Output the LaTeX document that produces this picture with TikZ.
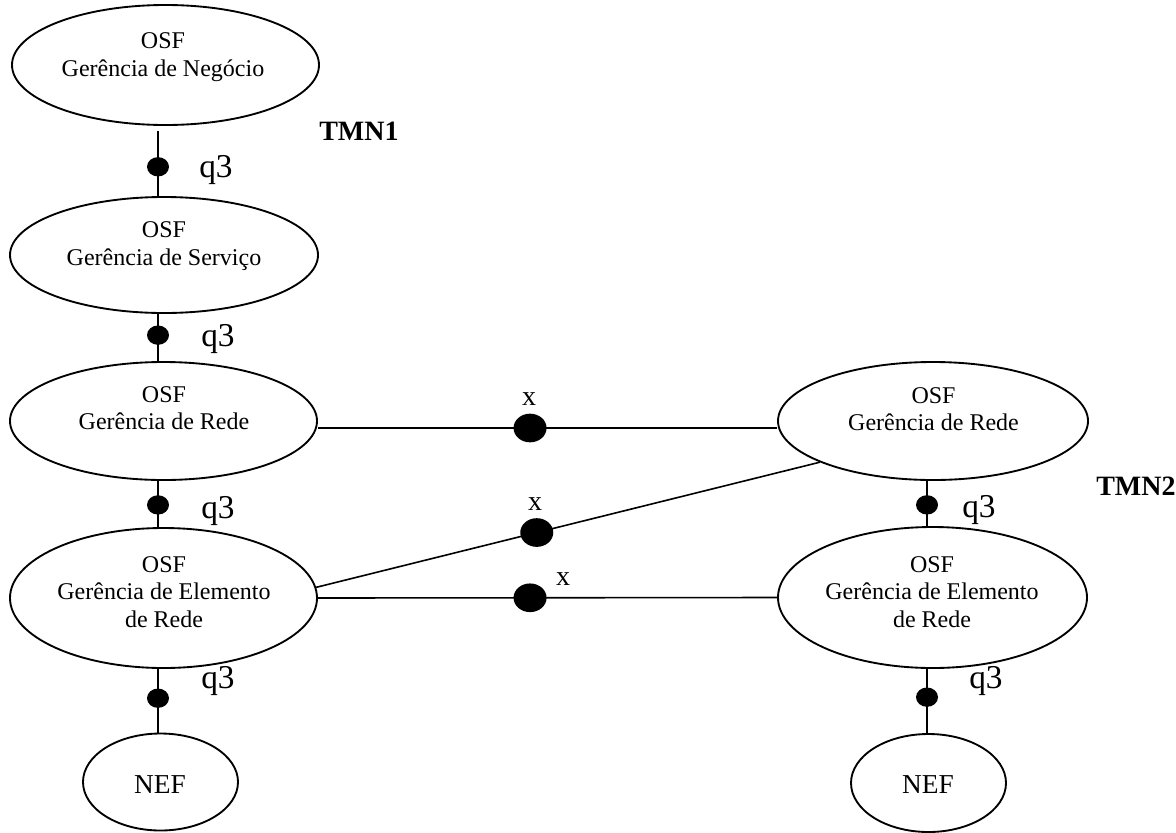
\documentclass[tikz,border=0pt]{standalone}
\usepackage{fontspec}
\setmainfont{Liberation Serif}
\usetikzlibrary{shapes.geometric,calc}
\begin{document}
\begin{tikzpicture}[x=0.75pt,y=-0.75pt,
  fn/.style={draw, ellipse, line width=1.4pt, inner sep=0pt},
  lbl/.style={inner sep=0pt, align=center, font=\fontsize{18}{20.6}\selectfont},
  neflbl/.style={inner sep=0pt, font=\fontsize{20.5}{24}\selectfont},
  link/.style={line width=1.2pt},
  qdot/.style={fill=black, ellipse, minimum width=16.5pt, minimum height=14.5pt, inner sep=0pt},
  xdot/.style={fill=black, ellipse, minimum width=24.75pt, minimum height=21.5pt, inner sep=0pt},
  qlbl/.style={inner sep=0pt, anchor=base west, font=\fontsize{25}{30}\selectfont},
  xlbl/.style={inner sep=0pt, anchor=base, font=\fontsize{21}{25}\selectfont},
  tmn/.style={inner sep=0pt, anchor=base west, font=\fontsize{21}{25}\selectfont\bfseries}]
\useasboundingbox (0,0) rectangle (1176,832);

% TMN1 function blocks
\node[fn, minimum width=230.25pt, minimum height=90pt] (e1) at (165.5,65) {};
\node[fn, minimum width=231pt, minimum height=87pt] (e2) at (164,255) {};
\node[fn, minimum width=230.25pt, minimum height=88.5pt] (e3) at (163.5,421) {};
\node[fn, minimum width=230.25pt, minimum height=105pt] (e4) at (163.5,598) {};
\node[fn, minimum width=116.25pt, minimum height=72.75pt] (n1) at (160.5,782) {};

% TMN2 function blocks
\node[fn, minimum width=232.5pt, minimum height=88.5pt] (r3) at (933,421) {};
\node[fn, minimum width=231.75pt, minimum height=105.75pt] (r4) at (932.5,597.5) {};
\node[fn, minimum width=116.25pt, minimum height=73.5pt] (n2) at (928.5,783) {};

% block texts
\node[lbl] (e1t) at (163,57) {OSF\\Gerência de Negócio};
\node[lbl] (e2t) at (164,246) {OSF\\Gerência de Serviço};
\node[lbl] (e3t) at (164,408) {OSF\\Gerência de Rede};
\node[lbl] (e4t) at (164,592) {OSF\\Gerência de Elemento\\de Rede};
\node[neflbl] (n1t) at (160,784.5) {NEF};
\node[lbl] (r3t) at (933.5,409) {OSF\\Gerência de Rede};
\node[lbl] (r4t) at (932,592) {OSF\\Gerência de Elemento\\de Rede};
\node[neflbl] (n2t) at (928,784.5) {NEF};

% axes of the vertical q3 links
\coordinate (lx) at (158,0);
\coordinate (rx) at (927,0);
\coordinate (g1) at (158,131);
\coordinate (hy) at (0,428);

% q3 reference points
\draw[link] (g1) -- node[qdot, pos=0.55] (q1) {} (e2.north -| lx);
\draw[link] (e2.south -| lx) -- node[qdot, pos=0.45] (q2) {} (e3.north -| lx);
\draw[link] (e3.south -| lx) -- node[qdot, pos=0.52] (q3) {} (e4.north -| lx);
\draw[link] (e4.south -| lx) -- node[qdot, pos=0.46] (q4) {} (n1.north -| lx);
\draw[link] (r3.south -| rx) -- node[qdot, pos=0.53] (q5) {} (r4.north -| rx);
\draw[link] (r4.south -| rx) -- node[qdot, pos=0.44] (q6) {} (n2.north -| rx);

% x reference points between the two TMNs
\draw[link] (e3.east |- hy) -- node[xdot, pos=0.462] (x1) {} (r3.west |- hy);
\draw[link] (e4.4) -- node[xdot, pos=0.438] (x2) {} (r3.200);
\draw[link] (e4.east) -- node[xdot, pos=0.462] (x3) {} (r4.west);

% reference point labels
\node[qlbl] (q1l) at (199,177) {q3};
\node[qlbl] (q2l) at (201,346) {q3};
\node[qlbl] (q3l) at (201,518) {q3};
\node[qlbl] (q4l) at (201,688) {q3};
\node[qlbl] (q5l) at (962,517) {q3};
\node[qlbl] (q6l) at (969,688) {q3};
\node[xlbl] (x1l) at (529,405) {x};
\node[xlbl] (x2l) at (535,510) {x};
\node[xlbl] (x3l) at (563,585) {x};

% network names
\node[tmn] (tmn1) at (319,140) {TMN1};
\node[tmn] (tmn2) at (1096,495) {TMN2};
\end{tikzpicture}
\end{document}
